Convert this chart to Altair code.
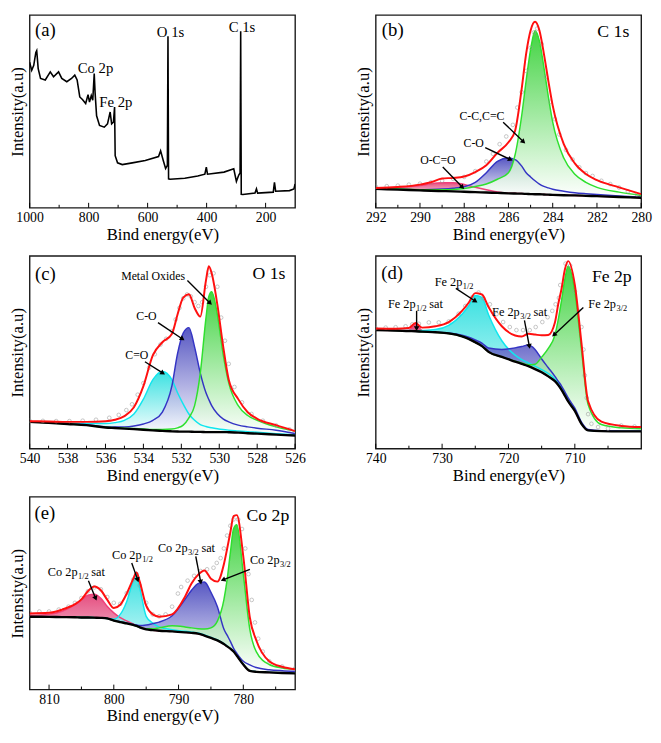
import math
import altair as alt
import pandas as pd

FONT = "Liberation Serif"
W, H = 270, 196

# ---------------- (a) survey ----------------
a_E = [1000, 993, 986, 979, 976, 971, 963, 947, 930, 919, 902, 891, 874, 858, 847, 839, 830, 821, 810, 802,
       797, 791, 786, 781, 778, 773, 763, 747, 736, 727, 722, 716, 712, 710, 702, 686, 652, 608, 563, 556,
       547, 539, 533, 531, 529, 524, 474, 430, 406, 401, 397, 341, 308, 299, 291, 286.5, 284.5, 282.5, 277, 236,
       231, 227, 174, 170, 166, 119, 104, 100]
a_I = [75.5, 71.3, 73.9, 80.6, 81.5, 72.2, 67.1, 66.3, 70.5, 68.0, 70.5, 67.1, 65.4, 67.1, 68.8, 66.3, 57.5, 56.2, 54.1, 58.7,
       54.8, 58.2, 55.8, 69.6, 59.5, 47.7, 42.7, 41.8, 43.5, 49.7, 43.5, 44.4, 52.3, 27.0, 23.3, 22.4, 23.3, 24.5, 26.6, 29.5,
       24.5, 20.4, 22.0, 89.0, 15.0, 14.8, 15.3, 16.5, 17.4, 21.1, 17.4, 18.5, 20.2, 13.7, 17.0, 18.0, 91.6, 7.0, 6.9, 7.6,
       9.8, 7.6, 8.1, 13.2, 8.6, 8.9, 9.8, 12.3]

# ---------------- (b) C 1s ----------------
b_E = [292, 291, 290, 289.5, 289, 288.5, 288, 287.5, 287, 286.5, 286, 285.7, 285.4, 285.2, 285, 284.8, 284.6, 284.4, 284.2, 284, 283.5, 283, 282.5, 282, 281, 280]
b_bg = [9.8, 9.4, 9.0, 8.8, 8.65, 8.5, 8.3, 8.1, 7.9, 7.7, 7.5, 7.4, 7.3, 7.2, 7.1, 7.0, 7.0, 6.9, 6.8, 6.7, 6.5, 6.4, 6.2, 6.0, 5.6, 5.2]
b_ocoo = [10.1, 10.6, 11.5, 12.5, 13.0, 13.0, 12.1, 10.6, 9.3, 8.2, 7.6, 7.5, 7.4, 7.3, 7.2, 7.1, 7.0, 6.9, 6.8, 6.7, 6.5, 6.4, 6.2, 6.0, 5.6, 5.2]
b_co = [9.9, 9.6, 9.4, 9.5, 9.7, 10.1, 10.9, 13.2, 18.2, 24.1, 25.8, 25.0, 21.6, 18.2, 16.0, 14.0, 12.3, 11.1, 10.3, 9.6, 8.6, 7.8, 7.3, 6.9, 6.1, 5.4]
b_cc = [10.0, 9.7, 9.4, 9.3, 9.3, 9.5, 10.0, 11.0, 12.3, 14.8, 18.2, 27.5, 48.0, 66.0, 82.0, 91.9, 86.5, 73.0, 57.8, 44.4, 25.8, 17.4, 13.2, 10.6, 8.1, 6.4]
b_env = [10.3, 10.8, 12.0, 13.2, 15.2, 15.5, 16.2, 18.5, 22.0, 28.5, 34.0, 40.0, 62.0, 80.0, 92.0, 96.5, 92.0, 80.0, 66.0, 53.0, 33.0, 23.0, 17.5, 14.3, 10.6, 7.1]
b_pE = [292, 291.5, 291, 290.5, 290, 289.5, 289, 288.5, 288, 287.5, 287, 286.7, 286.4, 286.1, 285.8, 285.6, 285.4, 285.2, 285.0, 284.85,
        284.7, 284.5, 284.3, 284.1, 283.9, 283.7, 283.4, 283.1, 282.8, 282.5, 282.2, 281.8, 281.4, 281, 280.6, 280.2]
b_pI = [11, 11.2, 11.5, 12, 12.5, 13.2, 14, 15, 16, 19, 24, 28, 33, 37, 43, 52, 60, 71, 83, 91,
        93, 85, 68, 55, 46, 38, 30, 25, 21, 18, 16.5, 14, 12.3, 10.5, 8.5, 7]

# ---------------- (c) O 1s ----------------
c_E = [540, 539, 538, 537, 536, 535.5, 535, 534.5, 534, 533.5, 533, 532.5, 532.2, 531.9, 531.6, 531.3, 531, 530.7, 530.55, 530.4, 530.1, 529.8, 529.5, 529, 528.5, 528, 527, 526]
c_bg = [13.9, 13.4, 12.8, 12.2, 11.0, 10.7, 10.4, 10.1, 9.8, 9.5, 9.2, 9.0, 8.9, 8.8, 8.8, 8.7, 8.7, 8.6, 8.6, 8.6, 8.6, 8.6, 8.5, 8.3, 8.0, 7.8, 7.3, 6.8]
c_ceo = [13.9, 13.5, 13.2, 13.0, 13.0, 13.5, 14.7, 18.0, 25.7, 35.8, 40.0, 35.8, 29.0, 23.1, 18.0, 14.7, 12.5, 11.5, 11.1, 10.8, 10.3, 9.9, 9.6, 9.2, 8.8, 8.5, 7.8, 7.1]
c_co = [13.9, 13.4, 12.9, 12.4, 11.4, 11.2, 11.3, 11.8, 12.8, 14.7, 19.0, 32.4, 49.3, 60.0, 62.8, 52.7, 39.2, 29.0, 25.5, 22.3, 18.1, 15.5, 13.9, 12.2, 11.3, 10.6, 9.6, 7.9]
c_mo = [13.9, 13.4, 12.8, 12.2, 11.1, 10.8, 10.6, 10.4, 10.2, 10.0, 10.0, 10.2, 10.8, 12.2, 16.0, 22.3, 39.2, 67.9, 79.0, 81.4, 69.6, 49.3, 34.1, 22.3, 17.2, 14.7, 11.3, 9.1]
c_env = [14.2, 14.1, 13.9, 13.9, 14.2, 15.0, 16.9, 21.5, 32.4, 48.5, 55.2, 59.5, 69.6, 78.4, 80.1, 73.0, 68.5, 87.3, 94.6, 91.0, 74.7, 53.5, 35.8, 25.7, 18.9, 15.5, 12.2, 9.1]
c_pE = [540, 539.3, 538.6, 537.9, 537.2, 536.5, 535.8, 535.3, 534.9, 534.6, 534.3, 534, 533.7, 533.4, 533.1, 532.8, 532.5, 532.3, 532.1, 531.9,
        531.7, 531.5, 531.3, 531.1, 530.9, 530.7, 530.5, 530.3, 530.1, 529.9, 529.7, 529.5, 529.2, 528.8, 528.3, 527.7, 527, 526.3]
c_pI = [14.5, 14.4, 14.3, 14.3, 14.5, 15, 16, 17.5, 20, 23, 28, 34, 42, 49, 54, 57, 61, 67, 73, 78,
        80, 79, 76, 74, 76, 84, 90, 91, 84, 68, 56, 44, 32, 24, 18, 14.5, 12, 10]

# ---------------- (d) Fe 2p ----------------
d_E = [740, 737, 735, 734, 733, 731, 729, 727, 726, 725, 724, 723, 721, 719, 718, 717, 716, 715, 714, 713, 712.5, 712, 711.5, 711, 710, 709, 708, 706, 703, 700]
d_bg = [61.5, 61.3, 61.0, 60.9, 60.7, 60.4, 59.8, 58.3, 57.0, 55.2, 53.2, 50.2, 47.6, 45.2, 44.0, 42.8, 41.3, 39.6, 37.5, 35.0, 33.0, 30.5, 27.5, 24.5, 19.6, 12.9, 9.5, 9.1, 9.0, 9.0]
d_sat12 = [61.5, 61.3, 61.5, 64.5, 61.2, 60.4, 59.8, 58.3, 57.0, 55.2, 53.2, 50.2, 47.6, 45.2, 44.0, 42.8, 41.3, 39.6, 37.5, 35.0, 33.0, 30.5, 27.5, 24.5, 19.6, 12.9, 9.5, 9.1, 9.0, 9.0]
d_p12 = [61.5, 61.4, 61.3, 61.2, 61.3, 61.8, 64.0, 69.8, 74.0, 79.5, 78.5, 69.5, 56.0, 48.5, 46.2, 44.5, 42.8, 41.0, 39.0, 36.2, 34.0, 31.3, 28.2, 25.1, 20.0, 13.1, 9.6, 9.2, 9.0, 9.0]
d_sat32 = [61.5, 61.3, 61.0, 60.9, 60.7, 60.5, 60.0, 58.8, 57.8, 56.4, 54.8, 52.2, 51.5, 52.3, 53.0, 53.8, 51.5, 46.5, 42.0, 37.5, 35.0, 32.5, 29.5, 26.3, 21.0, 13.8, 10.0, 9.3, 9.1, 9.0]
d_p32 = [61.5, 61.3, 61.0, 60.9, 60.7, 60.4, 59.8, 58.3, 57.0, 55.2, 53.2, 50.2, 47.6, 45.4, 44.4, 43.5, 43.8, 47.5, 52.0, 59.0, 67.0, 77.0, 88.0, 94.8, 81.6, 51.4, 22.9, 12.5, 10.8, 10.3]
d_env = [62.3, 62.2, 62.6, 65.2, 62.8, 63.5, 65.7, 71.5, 75.7, 80.7, 80.0, 73.5, 63.5, 58.7, 58.2, 59.6, 59.2, 58.8, 59.0, 65.5, 75.0, 83.0, 93.0, 97.3, 85.0, 54.8, 24.6, 14.0, 11.8, 11.2]
d_pE = [740, 738.5, 737, 735.5, 734.5, 733.5, 732, 730.5, 729, 727.5, 726.5, 725.5, 724.5, 723.8, 722.8, 721.8, 720.8, 719.8, 718.8, 717.8,
        716.8, 715.9, 714.9, 714.1, 713.4, 712.9, 712.4, 712.2, 711.4, 710.7, 710, 709.5, 709, 708.7, 708.5, 708.2, 708, 707.5, 706.5, 705,
        703, 701]
d_pI = [62.5, 62.8, 63, 63.5, 64.5, 64.8, 65.5, 65.5, 66, 70, 74, 78.5, 81, 78, 74.9, 69.8, 65.7, 63.1, 61.5, 61.5,
        61.5, 63.1, 65.7, 68.2, 71.5, 74.9, 78.2, 84.9, 96, 95, 81.6, 71.5, 63.1, 51.4, 38, 26.3, 17.9, 12.9, 11.2, 10.4,
        12, 11.5]

# ---------------- (e) Co 2p ----------------
e_E = [813, 810, 808, 806, 805, 804, 803, 802, 801, 800, 799, 798, 797, 796.5, 796, 795, 794, 793, 791, 789, 788, 787, 786, 785, 784, 783, 782.5, 782, 781.5, 781, 780, 779, 778, 776, 774, 772]
e_bg = [37.8, 37.7, 37.6, 37.5, 37.4, 37.4, 37.3, 37.2, 36.9, 35.8, 35.0, 34.3, 33.5, 33.0, 32.3, 31.2, 30.8, 30.5, 30.2, 29.7, 29.4, 29.0, 28.0, 26.8, 25.5, 23.6, 22.4, 21.2, 19.7, 17.5, 13.0, 9.7, 9.2, 8.9, 8.6, 8.4]
e_sat12 = [38.5, 39.0, 40.6, 44.0, 46.5, 49.0, 49.5, 47.3, 43.1, 39.8, 37.3, 35.6, 34.0, 33.3, 32.6, 31.4, 30.8, 30.5, 30.2, 29.7, 29.4, 29.0, 28.0, 26.8, 25.5, 23.6, 22.4, 21.2, 19.7, 17.5, 13.0, 9.7, 9.2, 8.9, 8.6, 8.4]
e_p12 = [37.8, 37.7, 37.6, 37.5, 37.4, 37.4, 37.3, 37.2, 36.9, 36.5, 39.0, 45.7, 56.5, 59.9, 53.0, 38.0, 34.5, 32.5, 31.0, 30.2, 29.8, 29.3, 28.3, 27.0, 25.7, 23.8, 22.6, 21.4, 19.9, 17.7, 13.1, 9.8, 9.3, 9.0, 8.7, 8.5]
e_sat32 = [37.8, 37.7, 37.6, 37.5, 37.4, 37.4, 37.3, 37.2, 36.9, 35.9, 35.2, 34.5, 33.8, 33.5, 33.2, 33.5, 34.2, 35.0, 38.3, 46.8, 51.5, 55.0, 55.8, 50.5, 43.0, 31.4, 28.2, 25.0, 21.4, 18.8, 14.7, 12.8, 11.4, 10.3, 9.8, 9.5]
e_p32 = [37.8, 37.7, 37.6, 37.5, 37.4, 37.4, 37.3, 37.2, 36.9, 35.8, 35.0, 34.3, 33.5, 33.0, 32.3, 31.5, 31.5, 32.0, 33.1, 32.5, 32.0, 31.6, 31.4, 32.0, 35.5, 46.5, 57.0, 71.0, 83.5, 85.5, 59.9, 31.4, 19.7, 13.0, 11.2, 10.5]
e_env = [39.5, 39.8, 41.5, 44.3, 46.8, 51.0, 53.5, 51.5, 46.5, 42.3, 44.0, 49.8, 57.4, 60.7, 56.0, 43.5, 39.0, 37.8, 39.0, 48.2, 55.0, 59.5, 61.8, 57.5, 56.0, 65.0, 73.0, 81.6, 90.0, 90.5, 69.0, 37.5, 25.6, 14.7, 11.8, 10.5]
e_pE = [813, 811.5, 810, 808.5, 807, 806, 805, 804, 803, 802, 801, 800, 799, 798, 797, 796.5, 796, 795, 794, 793,
        792, 791, 790.1, 789.6, 788.6, 787.6, 786.6, 785.6, 784.6, 784.1, 783.5, 783, 782.5, 782, 781.5, 780.8, 780.2, 779.7, 779.2, 778.7,
        778.2, 777.7, 777, 776, 774, 772]
e_pI = [40, 40.5, 40.5, 41.5, 43, 45, 47.5, 51, 53, 52, 48, 45, 44.5, 50, 57, 60, 54, 45, 39, 38,
        39, 43, 49.8, 53.2, 56.5, 59, 61.5, 62.4, 63.2, 65.7, 68.2, 73.2, 79.9, 85, 88.3, 88.3, 83.3, 73.2, 59.9, 46.5,
        34.8, 26.4, 19.7, 14.7, 12, 11]

# ---------------- annotations ----------------
a_labels = [("(a)", 946.7, 92.0, 19), ("Co 2p", 776.7, 72.7, 15), ("Fe 2p", 707.8, 55.0, 15),
            ("O 1s", 522.2, 91.0, 15), ("C 1s", 280.0, 93.9, 15)]
b_labels = [("(b)", 291.23, 92.1, 19), ("C 1s", 281.26, 91.2, 18), ("C-C,C=C", 287.2, 47.4, 12),
            ("C-O", 287.57, 33.4, 12), ("O-C=O", 289.19, 24.5, 12)]
c_labels = [("(c)", 539.17, 90.7, 19), ("O 1s", 527.38, 90.4, 18), ("Metal Oxides", 533.49, 89.5, 12),
            ("C-O", 533.84, 68.8, 12), ("C=O", 534.35, 48.5, 12)]
d_labels = [("(d)", 737.54, 91.3, 19), ("Fe 2p", 704.43, 89.1, 18)]
e_labels = [("(e)", 810.66, 91.6, 19), ("Co 2p", 776.2, 90.0, 18)]
d_sublabels = [("Fe 2p", "1/2", "", 726.95, 86.6), ("Fe 2p", "1/2", "sat", 734.0, 74.9),
               ("Fe 2p", "3/2", "sat", 718.3, 71.0), ("Fe 2p", "3/2", "", 703.8, 75.2)]
e_sublabels = [("Co 2p", "1/2", "sat", 805.6, 60.7), ("Co 2p", "1/2", "", 795.7, 69.9),
               ("Co 2p", "3/2", "sat", 788.6, 73.2), ("Co 2p", "3/2", "", 774.4, 67.4)]
b_arrows = [(286.24, 44.4, 285.32, 34.2), (287.05, 31.2, 285.91, 25.0), (288.97, 21.1, 288.08, 10.6)]
c_arrows = [(531.68, 87.3, 530.48, 75.5), (533.23, 65.4, 531.94, 56.9), (533.92, 45.1, 532.97, 39.2)]
d_arrows = [(727.93, 83.2, 724.98, 76.5), (733.84, 71.5, 733.84, 62.3), (717.59, 66.5, 716.85, 53.1), (708.72, 73.2, 713.15, 59.0)]
e_arrows = [(803.92, 56.5, 802.8, 47.3), (797.23, 65.7, 796.31, 56.9), (787.34, 69.1, 786.58, 55.7), (778.98, 62.4, 783.14, 56.9)]

# ---------------- styles ----------------
GREEN = ("#2fe02f", "#22cc22")
BLUE = ("#3434c4", "#3a3ab8")
CYAN = ("#10e6ee", "#18dcdc")
PINK = ("#f0407a", "#e0306a")
RED = "#ff1010"

YS = alt.Scale(domain=[0, 100], nice=False, zero=False)
YAXIS = alt.Axis(title="Intensity(a.u)", labels=False, ticks=False, domain=False, grid=False,
                 titleFont=FONT, titleFontSize=17, titleFontWeight="normal", titleColor="black", titlePadding=3)


def xscale(lo, hi):
    return alt.Scale(domain=[lo, hi], reverse=True, nice=False, zero=False)


def xaxis(major):
    return alt.Axis(values=major, title="Bind energy(eV)", format="d", ticks=False, domain=False, grid=False,
                    labelFont=FONT, labelFontSize=14, labelColor="black", labelPadding=3, labelFlush=False,
                    labelOverlap=False, titleFont=FONT, titleFontSize=17, titleFontWeight="normal",
                    titleColor="black", titlePadding=2)


def grad(c):
    return alt.LinearGradient(gradient="linear",
                              stops=[alt.GradientStop(color=c, offset=0), alt.GradientStop(color="#ffffff", offset=1)],
                              x1=1, x2=1, y1=0, y2=1)


class P:
    def __init__(self, xs, major):
        self.xs = xs
        self.major = major

    def X(self, f):
        return alt.X(f, scale=self.xs, axis=xaxis(self.major))

    def Y(self, f):
        return alt.Y(f, scale=YS, axis=YAXIS)


def tick_layers(p, minor):
    out = []
    for vals, ln in ((p.major, 5), (minor, 3)):
        out.append(alt.Chart(pd.DataFrame({"t": vals})).mark_rule(color="black", strokeWidth=1).encode(
            x=p.X("t:Q"), y=alt.value(H), y2=alt.value(H - ln)))
    return out


def text_layers(p, labels):
    df = pd.DataFrame(labels, columns=["txt", "E", "v", "fs"])
    out = []
    for fs, g in df.groupby("fs"):
        out.append(alt.Chart(g).mark_text(font=FONT, fontSize=float(fs), color="black", align="center",
                                          baseline="middle").encode(x=p.X("E:Q"), y=p.Y("v:Q"), text="txt:N"))
    return out


def sub_layers(p, sublabels):
    df = pd.DataFrame(sublabels, columns=["main", "sub", "post", "E", "v"])
    return [
        alt.Chart(df).mark_text(font=FONT, fontSize=12.5, color="black", align="right", baseline="middle").encode(
            x=p.X("E:Q"), y=p.Y("v:Q"), text="main:N"),
        alt.Chart(df).mark_text(font=FONT, fontSize=8.5, color="black", align="left", baseline="middle", dx=0.5, dy=4).encode(
            x=p.X("E:Q"), y=p.Y("v:Q"), text="sub:N"),
        alt.Chart(df).mark_text(font=FONT, fontSize=12.5, color="black", align="left", baseline="middle", dx=14).encode(
            x=p.X("E:Q"), y=p.Y("v:Q"), text="post:N"),
    ]


def arrow_layers(p, arrows, lo, hi):
    rows = []
    for e1, v1, e2, v2 in arrows:
        dx = -(e2 - e1) * W / (hi - lo)
        dy = -(v2 - v1) * H / 100.0
        ang = math.degrees(math.atan2(dx, -dy)) % 360
        rows.append({"e1": e1, "v1": v1, "e2": e2, "v2": v2, "ang": ang})
    df = pd.DataFrame(rows)
    shaft = alt.Chart(df).mark_rule(color="black", strokeWidth=1.4).encode(
        x=p.X("e1:Q"), y=p.Y("v1:Q"), x2="e2:Q", y2="v2:Q")
    head = alt.Chart(df).mark_point(shape="triangle-up", filled=True, color="black", size=32, opacity=1).encode(
        x=p.X("e2:Q"), y=p.Y("v2:Q"), angle=alt.Angle("ang:Q", scale=None))
    return [shaft, head]


def fit_panel(E, bg, comps, env, pE, pI, lo, hi, major, minor, labels, arrows, sublabels=None):
    p = P(xscale(lo, hi), major)
    data = {"E": E, "bg": bg, "env": env}
    for i, (vals, _) in enumerate(comps):
        data[f"c{i}"] = vals
    df = pd.DataFrame(data)
    layers = []
    for i, (_, col) in enumerate(comps):
        layers.append(alt.Chart(df).mark_area(color=grad(col[1]), opacity=0.85, interpolate="monotone", clip=True).encode(
            x=p.X("E:Q"), y=p.Y(f"c{i}:Q"), y2=alt.Y2("bg:Q")))
    for i, (_, col) in enumerate(comps):
        layers.append(alt.Chart(df).mark_line(color=col[0], strokeWidth=1.5, interpolate="monotone", clip=True).encode(
            x=p.X("E:Q"), y=p.Y(f"c{i}:Q")))
    layers.append(alt.Chart(df).mark_line(color="black", strokeWidth=2.4, interpolate="monotone", clip=True).encode(
        x=p.X("E:Q"), y=p.Y("bg:Q")))
    pdf = pd.DataFrame({"E": pE, "I": pI})
    layers.append(alt.Chart(pdf).mark_point(shape="circle", filled=False, size=14, color="#9a9a9a",
                                            strokeWidth=0.8, clip=True).encode(x=p.X("E:Q"), y=p.Y("I:Q")))
    layers.append(alt.Chart(df).mark_line(color=RED, strokeWidth=2.0, interpolate="monotone", clip=True).encode(
        x=p.X("E:Q"), y=p.Y("env:Q")))
    layers += tick_layers(p, minor)
    layers += text_layers(p, labels)
    if sublabels:
        layers += sub_layers(p, sublabels)
    layers += arrow_layers(p, arrows, lo, hi)
    return alt.layer(*layers).properties(width=W, height=H)


# (a)
pa_p = P(xscale(100, 1000), [1000, 800, 600, 400, 200])
adf = pd.DataFrame({"E": a_E, "I": a_I})
pa_layers = [alt.Chart(adf).mark_line(color="black", strokeWidth=1.6, clip=True).encode(x=pa_p.X("E:Q"), y=pa_p.Y("I:Q"))]
pa_layers += tick_layers(pa_p, [900, 700, 500, 300])
pa_layers += text_layers(pa_p, a_labels)
pa = alt.layer(*pa_layers).properties(width=W, height=H)

pb = fit_panel(b_E, b_bg, [(b_ocoo, PINK), (b_co, BLUE), (b_cc, GREEN)], b_env, b_pE, b_pI,
               280, 292, [292, 290, 288, 286, 284, 282, 280], [291, 289, 287, 285, 283, 281], b_labels, b_arrows)
pc = fit_panel(c_E, c_bg, [(c_ceo, CYAN), (c_co, BLUE), (c_mo, GREEN)], c_env, c_pE, c_pI,
               526, 540, [540, 538, 536, 534, 532, 530, 528, 526], [539, 537, 535, 533, 531, 529, 527], c_labels, c_arrows)
pd_ = fit_panel(d_E, d_bg, [(d_sat12, PINK), (d_p12, CYAN), (d_sat32, BLUE), (d_p32, GREEN)], d_env, d_pE, d_pI,
                700, 740, [740, 730, 720, 710], [735, 725, 715, 705], d_labels, d_arrows, d_sublabels)
pe = fit_panel(e_E, e_bg, [(e_sat12, PINK), (e_p12, CYAN), (e_sat32, BLUE), (e_p32, GREEN)], e_env, e_pE, e_pI,
               772, 813, [810, 800, 790, 780], [805, 795, 785, 775], e_labels, e_arrows, e_sublabels)

chart = alt.concat(pa, pb, pc, pd_, pe, columns=2, spacing=alt.RowColnumber(row=12, column=48)).properties(
    padding={"left": 0, "top": 0, "right": 0, "bottom": 0}
).configure_view(stroke="#1a1a1a", strokeWidth=1.4)

chart.save("out.html", embed_options={"renderer": "svg", "actions": False})
